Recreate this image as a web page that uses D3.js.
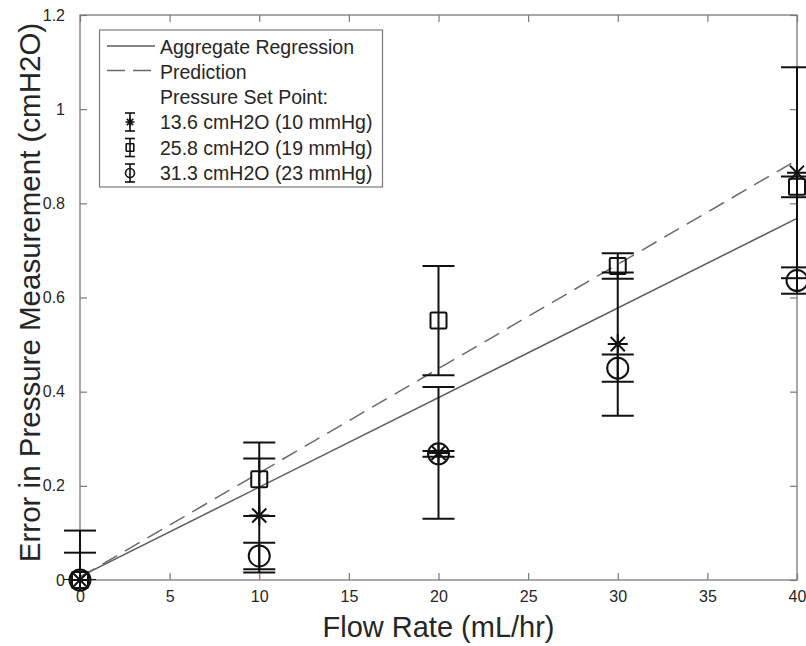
<!DOCTYPE html>
<html>
<head>
<meta charset="utf-8">
<script src="https://cdn.jsdelivr.net/npm/d3@7"></script>
<style>
  body { margin: 0; background: #fff; }
  text { font-family: "Liberation Sans", Arial, Helvetica, sans-serif; fill: #262626; }
</style>
</head>
<body>
<div id="chart"></div>
<script>
"use strict";

// values
const flowRate = [0, 10, 20, 30, 40];

// 13.6 cmH2O (10 mmHg) -> asterisk
const err136 = [0, 0.137, 0.27, 0.501, 0.865];
const bar136 = [0.105, 0.121, 0.14, 0.152, 0.224];
// 25.8 cmH2O (19 mmHg) -> square
const err258 = [0, 0.214, 0.551, 0.667, 0.835];
const bar258 = [0.058, 0.078, 0.116, 0.027, 0.022];
// 31.3 cmH2O (23 mmHg) -> circle
const err313 = [0, 0.051, 0.268, 0.45, 0.636];
const bar313 = [0, 0.028, 0.006, 0.029, 0.028];

const lineFlow = [0, 40];
const regressionErr = [0.007, 0.768];
const predictionErr = [0.006, 0.892];

const xTicks = [0, 5, 10, 15, 20, 25, 30, 35, 40];
const yTicks = [0, 0.2, 0.4, 0.6, 0.8, 1, 1.2];

const legendLabels = [
  "Aggregate Regression",
  "Prediction",
  "Pressure Set Point:",
  "13.6 cmH2O (10 mmHg)",
  "25.8 cmH2O (19 mmHg)",
  "31.3 cmH2O (23 mmHg)",
];

const W = 806,
  H = 646;
const plot = { left: 80, right: 797, top: 15, bottom: 580 };
const axisColour = "#7a7a7a";

const x = d3.scaleLinear().domain([0, 40]).range([plot.left, plot.right]);
const y = d3.scaleLinear().domain([0, 1.2]).range([plot.bottom, plot.top]);

const svg = d3
  .select("#chart")
  .append("svg")
  .attr("width", W)
  .attr("height", H)
  .attr("viewBox", [0, 0, W, H]);

// error bars are clipped at the y limits only (markers are not)
svg
  .append("clipPath")
  .attr("id", "clipY")
  .append("rect")
  .attr("x", 0)
  .attr("y", plot.top)
  .attr("width", W)
  .attr("height", plot.bottom - plot.top);

// ---- axes (box with inward ticks on all sides)
const tickLen = 7;
const axes = svg.append("g").attr("class", "axes");

axes
  .append("g")
  .attr("transform", `translate(0,${plot.bottom})`)
  .call(d3.axisBottom(x).tickValues(xTicks).tickSizeInner(-tickLen).tickSizeOuter(0).tickPadding(11))
  .call((g) => g.select(".domain").remove());

axes
  .append("g")
  .attr("transform", `translate(0,${plot.top})`)
  .call(d3.axisTop(x).tickValues(xTicks).tickSizeInner(-tickLen).tickSizeOuter(0).tickFormat(""))
  .call((g) => g.select(".domain").remove());

axes
  .append("g")
  .attr("transform", `translate(${plot.left},0)`)
  .call(
    d3
      .axisLeft(y)
      .tickValues(yTicks)
      .tickSizeInner(-tickLen)
      .tickSizeOuter(0)
      .tickPadding(15)
      .tickFormat((d) => d3.format("~g")(d))
  )
  .call((g) => g.select(".domain").remove());

axes
  .append("g")
  .attr("transform", `translate(${plot.right},0)`)
  .call(d3.axisRight(y).tickValues(yTicks).tickSizeInner(-tickLen).tickSizeOuter(0).tickFormat(""))
  .call((g) => g.select(".domain").remove());

axes.selectAll(".tick line").attr("stroke", axisColour).attr("stroke-width", 1.2);
axes
  .selectAll(".tick text")
  .style("font-family", '"Liberation Sans", Arial, sans-serif')
  .style("font-size", "16px")
  .attr("fill", "#262626");

axes
  .append("rect")
  .attr("x", plot.left)
  .attr("y", plot.top)
  .attr("width", plot.right - plot.left)
  .attr("height", plot.bottom - plot.top)
  .attr("fill", "none")
  .attr("stroke", axisColour)
  .attr("stroke-width", 1.3);

// axis titles
svg
  .append("text")
  .attr("x", x(20))
  .attr("y", 637)
  .attr("text-anchor", "middle")
  .style("font-size", "29px")
  .text("Flow Rate (mL/hr)");

svg
  .append("text")
  .attr("transform", `translate(40,${y(0.6) - 5}) rotate(-90)`)
  .attr("text-anchor", "middle")
  .style("font-size", "29.5px")
  .text("Error in Pressure Measurement (cmH2O)");

// ---- fit lines
const line = d3
  .line()
  .x((d) => x(d[0]))
  .y((d) => y(d[1]));

svg
  .append("path")
  .datum(d3.zip(lineFlow, regressionErr))
  .attr("d", line)
  .attr("fill", "none")
  .attr("stroke", "#5a5a5a")
  .attr("stroke-width", 1.5);

svg
  .append("path")
  .datum(d3.zip(lineFlow, predictionErr))
  .attr("d", line)
  .attr("fill", "none")
  .attr("stroke", "#6a6a6a")
  .attr("stroke-width", 1.5)
  .attr("stroke-dasharray", "17,9");

// ---- markers
function drawMarker(g, type, cx, cy, r) {
  if (type === "star") {
    const d = r * Math.SQRT1_2;
    g.append("path")
      .attr(
        "d",
        `M${cx - r},${cy}H${cx + r}M${cx},${cy - r}V${cy + r}` +
          `M${cx - d},${cy - d}L${cx + d},${cy + d}M${cx - d},${cy + d}L${cx + d},${cy - d}`
      );
  } else if (type === "square") {
    g.append("rect")
      .attr("x", cx - r)
      .attr("y", cy - r)
      .attr("width", 2 * r)
      .attr("height", 2 * r)
      .attr("rx", r * 0.15);
  } else {
    g.append("circle").attr("cx", cx).attr("cy", cy).attr("r", r);
  }
}

const series = [
  { type: "star", vals: err136, bars: bar136, r: 10 },
  { type: "square", vals: err258, bars: bar258, r: 8 },
  { type: "circle", vals: err313, bars: bar313, r: 10.5 },
];

const capHalf = 16;

series.forEach((s) => {
  const g = svg
    .append("g")
    .attr("fill", "none")
    .attr("stroke", "#111")
    .attr("stroke-width", 2);

  const bars = g.append("g").attr("clip-path", "url(#clipY)");

  flowRate.forEach((f, i) => {
    const cx = x(f),
      hi = y(s.vals[i] + s.bars[i]),
      lo = y(s.vals[i] - s.bars[i]);
    bars.append("line").attr("x1", cx).attr("x2", cx).attr("y1", hi).attr("y2", lo);
    [hi, lo].forEach((yy) => {
      bars
        .append("line")
        .attr("x1", cx - capHalf)
        .attr("x2", cx + capHalf)
        .attr("y1", yy)
        .attr("y2", yy);
    });
    drawMarker(g, s.type, cx, y(s.vals[i]), s.r);
  });
});

// ---- legend
const legend = svg.append("g").attr("class", "legend");
legend
  .append("rect")
  .attr("x", 99.5)
  .attr("y", 30)
  .attr("width", 283)
  .attr("height", 157)
  .attr("fill", "#fff")
  .attr("stroke", axisColour)
  .attr("stroke-width", 1.2);

const rowBase = [53.5, 78.5, 104, 129, 154.5, 180];

legend
  .selectAll("text")
  .data(legendLabels)
  .join("text")
  .attr("x", 160)
  .attr("y", (d, i) => rowBase[i])
  .style("font-size", "19.5px")
  .text((d) => d);

legend
  .append("line")
  .attr("x1", 107)
  .attr("x2", 155)
  .attr("y1", 46)
  .attr("y2", 46)
  .attr("stroke", "#5a5a5a")
  .attr("stroke-width", 1.5);

legend
  .append("line")
  .attr("x1", 107)
  .attr("x2", 155)
  .attr("y1", 70.5)
  .attr("y2", 70.5)
  .attr("stroke", "#6a6a6a")
  .attr("stroke-width", 1.5)
  .attr("stroke-dasharray", "18,8");

const legendMarkerR = [4.5, 3.8, 4.5];
series.forEach((s, i) => {
  const cy = rowBase[i + 3] - 7,
    cx = 130;
  const g = legend
    .append("g")
    .attr("fill", "none")
    .attr("stroke", "#111")
    .attr("stroke-width", 1.6);
  g.append("line").attr("x1", cx).attr("x2", cx).attr("y1", cy - 9).attr("y2", cy + 9);
  [cy - 9, cy + 9].forEach((yy) =>
    g.append("line").attr("x1", cx - 5).attr("x2", cx + 5).attr("y1", yy).attr("y2", yy)
  );
  drawMarker(g, s.type, cx, cy, legendMarkerR[i]);
});
</script>
</body>
</html>
